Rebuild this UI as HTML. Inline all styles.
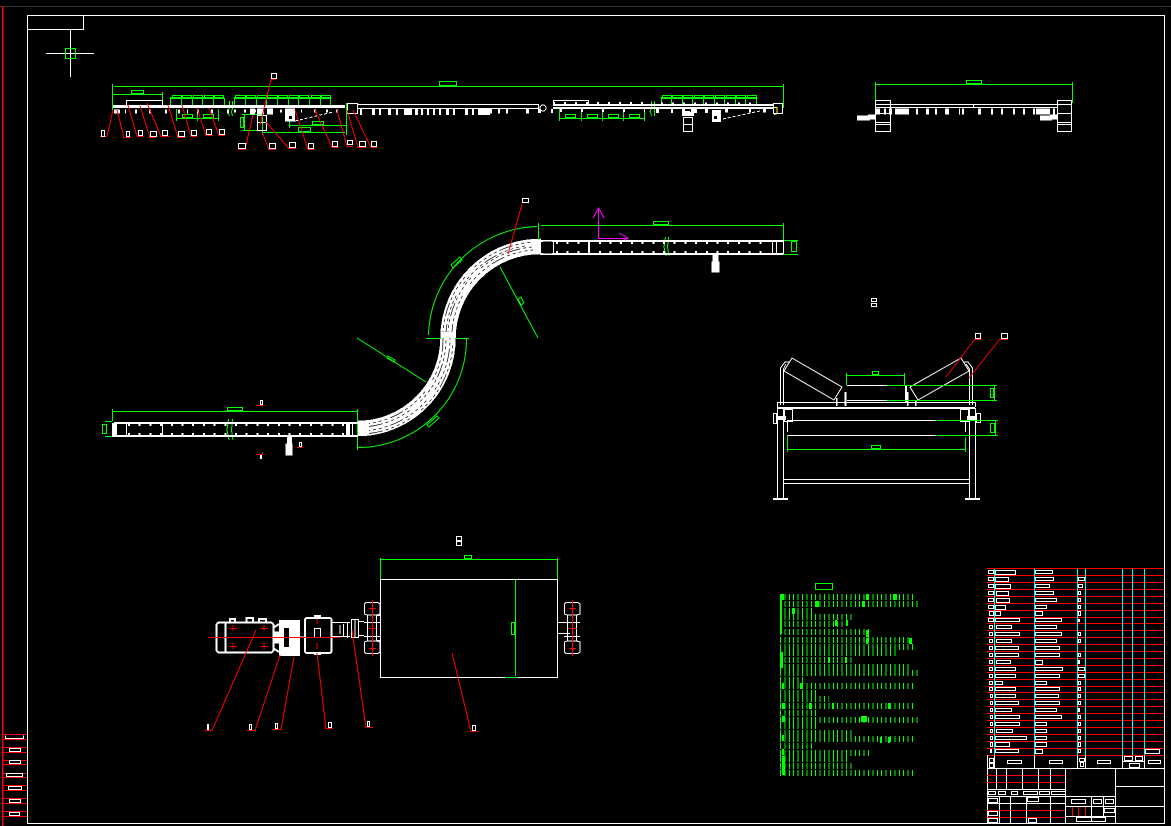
<!DOCTYPE html>
<html><head><meta charset="utf-8"><title>Drawing</title>
<style>html,body{margin:0;padding:0;background:#000;width:1171px;height:826px;overflow:hidden}svg{display:block}</style>
</head><body>
<svg xmlns="http://www.w3.org/2000/svg" width="1171" height="826" viewBox="0 0 1171 826" fill="none" shape-rendering="crispEdges">
<rect width="1171" height="826" fill="#000"/>
<!-- frame -->
<path d="M0 6.5H1171" stroke="#333"/>
<path d="M2.5 6V826" stroke="#f00" stroke-width="1.5"/>
<path d="M27.5 15.5H1164.5V823.5H27.5ZM27.5 29.5H83.5V15.5" stroke="#fff"/>
<path d="M3 734.5H27M3 739.5H27M3 747.5H27M3 752.5H27M3 760.5H27M3 764.5H27M3 773.5H27M3 777.5H27M3 785.5H27M3 790.5H27M3 798.5H27M3 803.5H27M3 811.5H27M3 816.5H27" stroke="#f00"/>
<path d="M5.500 735.500v3h18v-3M9.500 748.500v3h11v-3h-11zM9.500 760.500v3h11v-3h-11zM6.500 773.500v3h16v-3h-16zM8.500 786.500v3h13v-3h-13zM9.500 799.500v3h11v-3h-11zM9.500 812.500v3h10v-3h-10z" stroke="#fff"/>
<path d="M46 53.500H94M70.500 30V77" stroke="#fff"/>
<rect x="65.500" y="48.500" width="10" height="10" stroke="#0f0"/>

<!-- TOP ELEVATION green -->
<g stroke="#0f0">
<path d="M115 86.500H783M112.500 84V110M113 94.500H162M162.500 92V107M783.500 84V108"/>
<path d="M439.500 81.500h17v4h-17zM131.500 90.500h12v3h-12z"/>
<path d="M170 98.500H224M170 97.500H224M234 98.500H331M234 97.500H331M661 98.500H757M661 97.500H757"/>
<path d="M172.500 95.500h9v2h-9zM182.500 95.500h9v2h-9zM193.500 95.500h9v2h-9zM204.500 95.500h9v2h-9zM214.500 95.500h9v2h-9zM235.500 95.500h10v2h-10zM246.500 95.500h9v2h-9zM257.500 95.500h9v2h-9zM267.500 95.500h10v2h-10zM278.500 95.500h9v2h-9zM289.500 95.500h9v2h-9zM299.500 95.500h9v2h-9zM311.500 95.500h9v2h-9zM321.500 95.500h9v2h-9zM662.500 95.500h9v2h-9zM672.500 95.500h10v2h-10zM683.500 95.500h9v2h-9zM694.500 95.500h9v2h-9zM704.500 95.500h9v2h-9zM715.500 95.500h9v2h-9zM726.500 95.500h9v2h-9zM736.500 95.500h9v2h-9zM747.500 95.500h9v2h-9z"/>
<path d="M170.500 98V105M181.500 98V105M192.500 98V105M202.500 98V105M213.500 98V105M224.500 98V105M234.500 98V105M245.500 98V105M256.500 98V105M266.500 98V105M277.500 98V105M288.500 98V105M298.500 98V105M309.500 98V105M320.500 98V105M330.500 98V105M661.500 98V105M671.500 98V105M682.500 98V105M692.500 98V105M703.500 98V105M714.500 98V105M724.500 98V105M735.500 98V105M745.500 98V105M756.500 98V105"/>
<path d="M176 118.500H218M176.500 109V121M197.500 109V121M218.500 109V121M182.500 114.500h10v3h-10zM203.500 114.500h10v3h-10z"/>
<path d="M559 118.500H644M559.500 109V121M581.500 109V121M602.500 109V121M623.500 109V121M644.500 109V121M565.500 114.500h10v3h-10zM587.500 114.500h10v3h-10zM608.500 114.500h10v3h-10zM629.500 114.500h10v3h-10z"/>
<path d="M229.500 101V108L227.500 112L229.500 116M232.500 101V108L231.500 112L232.500 116M651.500 101V108L650 112L652 116M654.500 101V116"/>
<path d="M242 114.500H262M242 130.500H262M244.500 114V130M240.500 117.500h3v10h-3zM262.500 113V135M262 132.500H345M346.500 103V135M289 125.500H346M289.500 117V128M298.500 127.500h12v4h-12zM312.500 121.500h11v3h-11z"/>
</g>
<path d="M774 107.500h3v6l-3 1" stroke="#ff0"/>

<!-- TOP ELEVATION white -->
<g stroke="#fff">
<path d="M113 106.500H345" stroke-width="3"/>
<path d="M553 105H773M553 108H773" stroke-width="2"/>
<path d="M358 104.500H538M358 108.500H538M538.500 104V109M126.500 106V100.500H162.500V106M553.500 106V100.500H588.500V106M347.500 103.500h10v10h-10zM773.500 103.500h9v10h-9z"/>
<path d="M116 111.500H230" stroke-width="4" stroke-dasharray="2 7 1 9 2 12 2 14 2 11"/>
<path d="M234 111H346" stroke-width="3" stroke-dasharray="2 8 2 9 1 12 2 10"/>
<path d="M360 112H480" stroke-width="6" stroke-dasharray="2 10 3 4 2 7 3 5 2 6 8 3 3 3 2 4 2 4 2 4 2 5 3 4"/>
<path d="M478 112H490" stroke-width="6"/>
<path d="M490 111H540" stroke-width="5" stroke-dasharray="2 6 2 6 2 18 3 12"/>
<path d="M538 111H553" stroke-width="4" stroke-dasharray="3 10"/>
<path d="M553 103.500H650" stroke-width="3" stroke-dasharray="2 9"/>
<path d="M560 110.500H645" stroke-width="3" stroke-dasharray="2 19"/>
<path d="M656 110.500H708" stroke-width="5" stroke-dasharray="3 12 2 9 3 6 6 8"/>
<path d="M725 110.500H772" stroke-width="4" stroke-dasharray="3 21 2 12 3 6"/>
<path d="M661 103.500H760" stroke-width="2" stroke-dasharray="2 9"/>
<path d="M250 111.500H273" stroke-width="6" stroke-dasharray="5 2 7 3 6 2"/>
<path d="M285 115H295" stroke-width="13"/>
<path d="M257.500 115.500h9v15h-9zM257.500 122.500h9M683.500 117.500h9v14h-9zM683.500 124.500h9" />
<path d="M685 113H690M682 114H694" stroke-width="4"/>
<path d="M712 116H721" stroke-width="12"/>
<path d="M295 121L333 112M718 120L760 111" stroke-dasharray="3 2"/>
<path d="M114 111.500h6" stroke-width="4"/>
<circle cx="543" cy="108" r="3"/>
</g>
<path d="M289 116h3v3h-3z" fill="#000"/><path d="M714 116h3v3h-3z" fill="#000"/>

<!-- RIGHT TOP ELEVATION -->
<g stroke="#0f0">
<path d="M875 84.500H1072M875.500 82V103M1072.500 82V103M966.500 80.500h15v3h-15z"/>
</g>
<g stroke="#fff">
<path d="M875 104.500H1057M875 107.500H1057M973.500 104V108"/>
<path d="M875.500 100.500h15v31h-15zM875.500 104.500h15M875.500 113.500h15M875.500 122.500h15M875.500 124.500h15M1057.500 100.500h14v31h-14zM1057.500 104.500h14M1057.500 113.500h14M1057.500 122.500h14M1057.500 124.500h14"/>
<path d="M876 111.500H960" stroke-width="6" stroke-dasharray="4 4 2 3 3 3 14 7 2 8 3 6 2 8 4 10"/>
<path d="M962 111.500H1040" stroke-width="6" stroke-dasharray="2 14 3 10 2 8 2 10 2 8 2 8"/>
<path d="M1036 111.500H1056" stroke-width="6" stroke-dasharray="14 3 2 1"/>
<path d="M857 118H870M868 117H875M1040 118H1052M1050 117H1057" stroke-width="5"/>
</g>

<!-- red leaders + boxes top -->
<g stroke="#f00">
<path d="M113 110L107 136.500H100M117 110L124 137.500H131M128 105L137 136.500H143M140 106L150 137.500H156M147 103L161 136.500H169M168 105L178 137.500H185M182 105L191 136.500H197M197 108L206 135.500H213M209 108L219 135.500H225M253 115L245 149.500H238M271 79.500L260 125M271 79.500H276M262 132L269 149.500H276M266 122L289 148.500H296M295 110L308 149.500H314M315 110L332 147.500H338M337 110L347 146.500H353M347 110L358 147.500H366M353 110L371 147.500H377"/>
</g>
<g stroke="#fff">
<path d="M101.500 130.500h3v6h-3zM126.500 131.500h3v5h-3zM138.500 130.500h4v5h-4zM150.500 131.500h6v5h-6zM162.500 130.500h5v5h-5zM178.500 131.500h6v5h-6zM191.500 130.500h5v5h-5zM206.500 129.500h5v5h-5zM219.500 129.500h5v5h-5zM238.500 143.500h7v5h-7zM271.500 73.500h5v5h-5zM269.500 143.500h6v5h-6zM289.500 142.500h6v5h-6zM308.500 143.500h5v5h-5zM332.500 141.500h5v5h-5zM347.500 140.500h5v4h-5zM359.500 141.500h6v5h-6zM371.500 141.500h5v5h-5z"/>
</g>

<!-- S-CURVE PLAN -->
<path d="M358 428.500A90.500 90.500 0 0 0 448 338A92 92 0 0 1 541 246.500" stroke="#fff" stroke-width="15.500" stroke-linecap="butt"/>
<g stroke="#000" stroke-width=".7" stroke-dasharray="3 3 3 3 3 3 3 3 3 3 14" shape-rendering="auto">
<path d="M369 423.500A85 85 0 0 0 443 338M369 430.500A92 92 0 0 0 450 338" stroke-dashoffset="8"/>
<path d="M369 426.500A88 88 0 0 0 446 338M369 433.500A95 95 0 0 0 453 338" stroke-dashoffset="30"/>
<path d="M448 332A92 92 0 0 1 533 247M443 332A97 97 0 0 1 533 242" stroke-dashoffset="14"/>
<path d="M452 332A88 88 0 0 1 533 250M446 332A94 94 0 0 1 533 245" stroke-dashoffset="36"/>
</g>
<g stroke="#0f0">
<path d="M428.500 335A111.500 111.500 0 0 1 537 226.500" shape-rendering="auto"/>
<path d="M358 447.500A108.500 108.500 0 0 0 466.500 338" shape-rendering="auto"/>
<path d="M426 338.500H441M456 338.500H469M357.500 409V450M538.500 223V240M541 225.500H783M783.500 223V240M113 411.500H357M112.500 409V421M357.500 409V421" />
<path d="M357 338L426 382M500 267L538 338" shape-rendering="auto"/>
<path d="M451 265l9-8 2 3-9 8zM427 425l10-9 2 2-10 9zM388 356l7 4-1 2-7-4zM521 297l3 6-3 2-3-6z" shape-rendering="auto"/>
<path d="M653.500 221.500h15v3h-15zM227.500 407.500h15v3h-15z"/>
<path d="M791.500 241.500h5v10h-5zM783 240.500H798M783 254.500H798M102.500 424.500h4v9h-4zM105 421.500H112M105 436.500H112"/>
<path d="M665.500 237L664 247L666 256M668.500 237L667.500 247L669 256M228.500 419L227 430L229 440M232.500 419L231.500 430L233 440"/>
</g>
<g stroke="#f0f" stroke-width="1">
<path d="M598.500 238V208M593 218L598.500 208L604 218M598 238.500H628M619 233L628 238L619 243" shape-rendering="auto"/>
</g>
<!-- right straight belt -->
<g stroke="#fff">
<path d="M540 240.500H783M540 241.500H783M540 253.500H783M540 254.500H783M553.500 241V254M588.500 241V254M589.500 241V254M772.500 241V254M776.500 241V254M783.500 240V254"/>
<path d="M543 247.500H552" stroke-width="12" stroke="#000"/>
<path d="M556 243H770M556 252H770" stroke-width="2" stroke-dasharray="2 8.700"/>
<path d="M114 422.500H358M114 423.500H358M114 435.500H358M114 436.500H358M116.500 423V436M126.500 423V436M162.500 423V436M352.500 423V436"/>
<path d="M112 430H116" stroke-width="14" stroke="#fff"/>
<path d="M346 430H350" stroke-width="13"/>
<path d="M128 425H345M128 434H345" stroke-width="2" stroke-dasharray="2 8.700"/>
<path d="M715.500 255V272" stroke-width="6"/><path d="M712 262h7v10h-7z" fill="#fff"/>
<path d="M289.500 437V455" stroke-width="5"/><path d="M286 444h6v11h-6z" fill="#fff"/>
<path d="M299.500 442.500h2v4h-2zM260.500 400.500h2v4h-2z"/>
<path d="M261 454V459" stroke-width="2"/>
<path d="M522.500 198.500h6v4h-6z"/>
</g>
<path d="M522 204L508 254" stroke="#f00" shape-rendering="auto"/>
<path d="M256 405.500H263M262.500 405V407M256 454.500H263M262.500 452V455M297 447.500H303" stroke="#f00"/>

<!-- CROSS SECTION -->
<g stroke="#fff">
<path d="M792 358L842 387L834 400L784 371ZM961 358L910 387L918 400L969 371Z" shape-rendering="auto"/>
<path d="M780.500 405V368L785 362H789M783.500 405V369L786 364M972.500 405V368L968 362H964M969.500 405V369L966 364"/>
<path d="M777.500 402.500H975.500M777.500 402V407M975.500 402V407"/>
<path d="M777 408H975" stroke-width="2"/>
<path d="M847 385.500H887M847 400.500H887M787 420.500H936M787 435.500H936"/>
<path d="M777.500 408V498M783.500 408V498M969.500 408V498M975.500 408V498M783 479.500H969M783 483.500H969"/>
<path d="M773 499H788M965 499H980" stroke-width="2"/>
<path d="M784.500 409.500h8v12h-8zM960.500 409.500h8v12h-8zM773.500 413.500h3v10h-3zM976.500 413.500h4v9h-4zM787.500 420V432M965.500 420V432"/>
<path d="M778 418H786M967 418H975" stroke-width="4"/>
<path d="M845.500 392V406M906 386V402" stroke-width="2"/>
<path d="M836.500 398V406M907.500 392V406M915.500 400V406" stroke-width="1.500"/>
<path d="M871.500 298.500h5v3h-5zM871.500 303.500h5v3h-5zM975.500 333.500h5v5h-5zM1001.500 333.500h6v5h-6z"/>
</g>
<g stroke="#0f0">
<path d="M887 385.500H997M887 400.500H997M994.500 385V400M990.500 388.500h3v9h-3zM936 420.500H998M936 435.500H998M995.500 420V435M990.500 423.500h4v9h-4z"/>
<path d="M846 375.500H904M846.500 373V385M904.500 373V385M872.500 371.500h6v3h-6zM787 449.500H965M787.500 435V452M965.500 437V452M871.500 445.500h9v3h-9z"/>
</g>
<path d="M975 339.500H981M975 339L946 377M1000 339.500H1008M1000 339L969 378" stroke="#f00" shape-rendering="auto"/>

<!-- DRIVE -->
<g stroke="#fff">
<path d="M380.500 579.500H557.500V677.500H380.500Z"/>
<rect x="216.500" y="622.500" width="57" height="30" rx="3" stroke-width="2"/>
<path d="M225.500 622V652M246.500 623V618H253V623M259 623V619H266V623M230 622V619H235V622M273 628L279 624M273 648L279 652" stroke-width="2"/>
<path d="M275 632H280V643H275Z" fill="#fff"/>
<path d="M279 620H300V656H279Z" fill="#fff" stroke="none"/>
<path d="M284 628H289V647H284Z" fill="#000" stroke="none"/>
<rect x="305" y="618" width="26.500" height="35" rx="2" stroke-width="2"/>
<path d="M314.500 628.500h6v9h-6zM332 622.500H350M332 636.500H350M340 625V634M343.500 624V636M347.500 622V638M351.500 619.500h7v18h-7zM355 620V637M359 621.500H364M359 635.500H364M300 637H305"/>
<path d="M314 616H321M314 654H321" stroke-width="2"/>
</g>
<g stroke="#fff">
<path d="M364.500 604L366 602.500H378L380 604V614L377 615H367L364.500 614ZM364.500 642L367 641H377L380 642V652L378 653.500H366L364.500 652ZM367.500 615V641M376.500 615V641M364 622.500H380M364 636.500H380M376.500 615.500h4M376.500 640.500h4"/>
<path d="M564.500 604L566 602.500H578L580 604V614L577 615H567L564.500 614ZM564.500 642L567 641H577L580 642V652L578 653.500H566L564.500 652ZM567.500 615V641M576.500 615V641M557 622.500H570M557 633.500H570M564 622.500H580M564 636.500H580"/>
</g>
<path d="M372.500 600V656M369 628.500H376M369 608.500H376M369 648.500H376M572.500 600V656M568 628.500H577M569 608.500H576M569 648.500H576" stroke="#f00"/>
<g stroke="#f00">
<path d="M208 637.500H340M233 625V631M230 628.500H237M264 625V631M261 628.500H268M233 643V649M230 646.500H237M264 643V649M261 646.500H268M317 619V624M317 643V649"/>
<path d="M256 630L212 730.500H205M280 655L255 730.500H247M294 657L281 729.500H273M317 653L326 728.500H333M352 630L366 727.500H373M452 653L471 731.500H478" shape-rendering="auto"/>
</g>
<g stroke="#fff">
<path d="M207.500 724.500h1v5h-1zM249.500 724.500h2v5h-2zM275.500 723.500h2v5h-2zM328.500 722.500h3v5h-3zM367.500 721.500h2v5h-2zM472.500 725.500h3v5h-3zM456.500 536.500h5v4h-5zM456.500 541.500h5v4h-5z"/>
</g>
<g stroke="#0f0">
<path d="M380 559.500H557M380.500 558V579M557.500 558V579M464.500 555.500h7v3h-7zM515.500 579V676M505 677.500H518M511.500 622.500h3v12h-3z"/>
</g>

<!-- NOTES -->
<rect x="815.500" y="583.500" width="17" height="6" stroke="#0f0"/>
<path stroke="#0f0" stroke-width="6" stroke-dasharray="1 3.400" d="M780 597H915M780 604H918M780 611H815M780 617H853M780 624H846M780 632H872M780 640H912M780 647H916M780 653H896M780 660H855M780 667H912M780 673H918M780 680H803M780 686H915M780 693H817M780 699H829M780 706H915M780 713H819M780 720H919M780 726H817M780 733H853M780 739H914M780 746H815M780 753H871M780 759H849M780 766H855M780 773H914"/>
<path fill="#0f0" d="M780 594h2v40h-2zM780 652h3v16h-3zM782 594h2v6h-2zM862 601h3v6h-3zM815 601h4v6h-4zM866 594h3v6h-3zM893 594h4v6h-4zM792 608h3v6h-3zM835 620h2v6h-2zM846 620h2v6h-2zM866 630h3v7h-3zM909 638h3v6h-3zM866 638h2v6h-2zM828 657h2v6h-2zM845 657h2v6h-2zM782 683h2v6h-2zM800 683h2v6h-2zM782 703h3v6h-3zM782 716h3v6h-3zM888 703h2v6h-2zM861 716h6v6h-6zM782 735h2v6h-2zM880 737h2v6h-2zM888 737h2v6h-2zM782 749h2v6h-2zM782 756h3v14h-3zM782 769h3v6h-3zM809 703h2v6h-2zM832 703h2v6h-2z"/>

<!-- TABLE -->
<path stroke="#f00" d="M987 568.500H1164M987 575.500H1164M987 582.500H1164M987 589.500H1164M987 596.500H1164M987 603.500H1164M987 610.500H1164M987 617.500H1164M987 623.500H1164M987 630.500H1164M987 637.500H1164M987 644.500H1164M987 651.500H1164M987 658.500H1164M987 665.500H1164M987 672.500H1164M987 679.500H1164M987 686.500H1164M987 692.500H1164M987 699.500H1164M987 706.500H1164M987 713.500H1164M987 720.500H1164M987 727.500H1164M987 734.500H1164M987 741.500H1164M987 748.500H1164M987 755.500H1164"/>
<path stroke="#0ff" d="M994.500 569V755M1034.500 569V755M1077.500 569V755M1085.500 569V755M1122.500 569V755M1132.500 569V755M1144.500 569V755"/>
<g transform="translate(0,.5)">
<path stroke="#fff" d="M995.500 570h20v4h-20zM995.500 577h13v4h-13zM995.500 584h15v4h-15zM996.500 591h12v4h-12zM996.500 598h13v4h-13zM995.500 605h10v4h-10zM995.500 611h5v4h-5zM995.500 618h24v3h-24zM996.500 625h15v3h-15zM995.500 632h24v3h-24zM996.500 639h15v3h-15zM995.500 646h23v3h-23zM995.500 653h23v3h-23zM996.500 660h14v3h-14zM995.500 667h20v3h-20zM995.500 674h20v3h-20zM995.500 681h7v3h-7zM995.500 687h20v3h-20zM995.500 694h20v3h-20zM995.500 701h23v3h-23zM995.500 708h16v3h-16zM995.500 715h24v3h-24zM995.500 722h24v3h-24zM996.500 729h16v3h-16zM995.500 736h31v3h-31zM995.500 742h14v4h-14zM995.500 749h23v3h-23z"/>
<path stroke="#fff" d="M1035.500 570h17v3h-17zM1035.500 577h18v3h-18zM1035.500 584h14v3h-14zM1035.500 591h18v3h-18zM1035.500 598h21v3h-21zM1035.500 605h11v3h-11zM1035.500 611h7v4h-7zM1035.500 618h26v3h-26zM1035.500 625h21v3h-21zM1035.500 632h26v3h-26zM1035.500 639h21v3h-21zM1035.500 646h24v3h-24zM1035.500 653h24v3h-24zM1035.500 660h7v4h-7zM1035.500 667h27v3h-27zM1035.500 674h24v3h-24zM1035.500 681h11v3h-11zM1035.500 687h24v3h-24zM1035.500 694h23v3h-23zM1035.500 701h24v3h-24zM1035.500 708h21v3h-21zM1035.500 715h26v3h-26zM1035.500 722h11v3h-11zM1035.500 729h11v3h-11zM1035.500 736h11v3h-11zM1035.500 742h11v4h-11zM1035.500 749h7v4h-7z"/>
<path stroke="#fff" d="M988.500 570h5v3h-5zM988.500 577h5v3h-5zM988.500 584h5v3h-5zM988.500 591h5v3h-5zM988.500 598h5v3h-5zM988.500 605h5v3h-5zM989.500 611h4v4h-4zM988.500 618h5v3h-5zM989.500 625h3v3h-3zM989.500 632h3v3h-3zM989.500 639h3v3h-3zM989.500 646h3v3h-3zM989.500 653h3v3h-3zM989.500 660h3v3h-3zM989.500 667h3v3h-3zM989.500 674h3v3h-3zM989.500 681h3v3h-3zM989.500 687h3v3h-3zM990.500 694h2v3h-2zM990.500 701h2v3h-2zM990.500 708h2v3h-2zM990.500 715h2v3h-2zM990.500 722h2v3h-2zM990.500 729h2v3h-2zM990.500 736h2v3h-2zM990.500 742h2v4h-2zM990.500 749h1v3h-1z"/>
<path stroke="#fff" d="M1078.500 577h6v3h-6zM1078.500 584h4v3h-4zM1078.500 591h2v3h-2zM1078.500 598h2v3h-2zM1078.500 605h2v3h-2zM1078.500 611h2v4h-2zM1078.500 619h1v2h-1zM1078.500 632h2v3h-2zM1078.500 639h2v3h-2zM1078.500 653h2v3h-2zM1078.500 660h1v3h-1zM1078.500 667h6v3h-6zM1078.500 674h6v3h-6zM1078.500 681h2v3h-2zM1078.500 687h2v3h-2zM1078.500 694h2v3h-2zM1078.500 701h2v3h-2zM1078.500 708h1v3h-1zM1078.500 715h2v3h-2zM1078.500 722h2v3h-2zM1078.500 729h2v3h-2zM1078.500 736h2v3h-2zM1078.500 742h2v4h-2zM1078.500 749h2v3h-2z"/>
</g>
<path stroke="#fff" d="M1145.500 749.500h14v4h-14zM994.500 755V768M1034.500 755V768M1077.500 755V768M1085.500 755V768M1122.500 755V768M1144.500 755V768M987 768.500H1164M987.500 755V823M1122.500 761.500H1144M989.500 758.500h4v4h-4zM989.500 763.500h4v4h-4zM1007.500 760.500h14v3h-14zM1049.500 760.500h13v3h-13zM1079.500 758.500h5v3h-5zM1080.500 762.500h3v4h-3zM1097.500 760.500h13v3h-13zM1124.500 756.500h8v4h-8zM1135.500 756.500h7v4h-7zM1129.500 763.500h10v4h-10zM1148.500 760.500h12v3h-12z"/>
<path stroke="#f00" d="M987 775.500H1065M987 782.500H1065M987 817.500H1065M987 810.500H1065M1072.500 806V816M1078.500 806V816M1085.500 806V816"/>
<path stroke="#fff" d="M996.500 768V790M1006.500 768V790M1022.500 768V790M1038.500 768V790M1050.500 768V790M1065.500 768V823M1115.500 768V823M1115 786.500H1164M1065 806.500H1164M1065 796.500H1115M1065 816.500H1115M1091.500 796V816M1103.500 796V816M987 789.500H1065M987 796.500H1065M987 803.500H1065M999.500 796V823M1010.500 796V823M1026.500 796V823M1050.500 796V823"/>
<path stroke="#fff" d="M988.500 791.500h7v3h-7zM998.500 791.500h7v3h-7zM1011.500 791.500h6v3h-6zM1023.500 791.500h14v3h-14zM1039.500 791.500h10v3h-10zM1051.500 791.500h14v3h-14zM988.500 798.500h9v4h-9zM1027.500 797.500h11v4h-11zM988.500 811.500h9v4h-9zM988.500 818.500h9v4h-9zM1028.500 818.500h8v4h-8zM1071.500 799.500h14v4h-14zM1093.500 799.500h8v4h-8zM1105.500 799.500h8v4h-8zM1104.500 808.500h10v4h-10zM1076.500 817.500h29v4h-29zM1091.500 817.500V822"/>
</svg>
</body></html>
